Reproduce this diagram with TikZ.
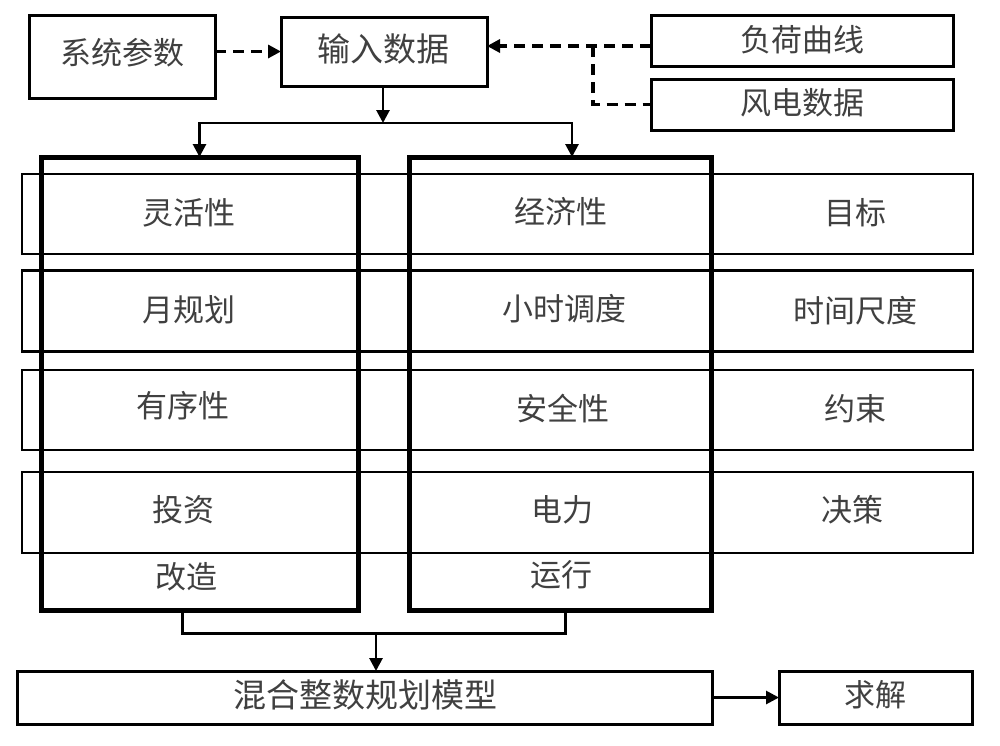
\documentclass[tikz,border=0pt]{standalone}
\usepackage{fontspec}
\setmainfont{Noto Sans CJK SC}
\usetikzlibrary{arrows.meta,calc}
\begin{document}
\begin{tikzpicture}[x=1pt,y=-1pt,
  box/.style={draw, line width=3pt, inner sep=0pt, outer sep=0pt},
  rowbox/.style={draw, line width=2.4pt, inner sep=0pt, outer sep=0pt},
  tall/.style={draw, line width=5pt, inner sep=0pt, outer sep=0pt},
  lbl/.style={inner sep=0pt, text=black!75, font=\fontsize{31pt}{31pt}\selectfont},
  arr/.style={line width=2.8pt, -{Triangle[length=13pt,width=13pt]}},
  darr/.style={line width=3.2pt, dash pattern=on 11pt off 7pt, -{Triangle[length=13pt,width=13pt]}},
  dln/.style={line width=3.2pt, dash pattern=on 11pt off 7pt},
  ln/.style={line width=3pt}]
\useasboundingbox[fill=white] (0,0) rectangle (1000,745);
% top boxes
\node[box, minimum width=186pt, minimum height=83pt] (sys) at (122,56.5) {};
\node[lbl] at (122,53) {系统参数};
\node[box, minimum width=206pt, minimum height=69pt] (inp) at (384,51.5) {};
\node[lbl, font=\fontsize{33pt}{33pt}\selectfont] at (383,49) {输入数据};
\node[box, minimum width=302pt, minimum height=51pt] (load) at (802,41) {};
\node[lbl] at (802,40) {负荷曲线};
\node[box, minimum width=302pt, minimum height=51pt] (wind) at (802,104.5) {};
\node[lbl] at (802,103) {风电数据};
% rows
\node[rowbox, minimum width=951pt, minimum height=80pt] (r1) at (497.5,214) {};
\node[rowbox, minimum width=951pt, minimum height=81pt] (r2) at (497.5,311) {};
\node[rowbox, minimum width=951pt, minimum height=80pt] (r3) at (497.5,410) {};
\node[rowbox, minimum width=951pt, minimum height=81pt] (r4) at (497.5,512.5) {};
% tall columns
\node[tall, minimum width=317pt, minimum height=453pt] (cl) at (199.5,383.5) {};
\node[tall, minimum width=302pt, minimum height=453pt] (cm) at (560,383.5) {};
% labels
\node[lbl] at (189,213) {灵活性};
\node[lbl] at (189,310) {月规划};
\node[lbl] at (183,406) {有序性};
\node[lbl] at (183,510) {投资};
\node[lbl] at (186,577) {改造};
\node[lbl] at (561,212) {经济性};
\node[lbl] at (564,309) {小时调度};
\node[lbl] at (563,409) {安全性};
\node[lbl] at (562,510) {电力};
\node[lbl] at (561,575) {运行};
\node[lbl] at (855,213) {目标};
\node[lbl] at (855,311) {时间尺度};
\node[lbl] at (855,409) {约束};
\node[lbl] at (852,510) {决策};
% bottom
\node[box, minimum width=695pt, minimum height=53pt] (model) at (364.5,697.5) {};
\node[lbl, font=\fontsize{33pt}{33pt}\selectfont] at (365,695) {混合整数规划模型};
\node[box, minimum width=193pt, minimum height=53pt] (solve) at (875.5,697.5) {};
\node[lbl] at (875.5,695) {求解};
% connectors
\draw[darr] (sys.east |- inp.west) -- (inp.west);
\coordinate (j) at (593,46);
\draw[darr] (load.west |- j) -- (inp.east |- j);
\draw[dln] (j) |- (wind.west);
\coordinate (sp) at (383,123);
\draw[arr] (inp.south -| sp) -- (sp);
\draw[arr] (sp) -| (cl.north);
\draw[arr] (sp) -| ($(cm.north)+(12,0)$);
\coordinate (bl) at (182,633);
\coordinate (bm) at (376,633);
\draw[ln] (cl.south -| bl) -- (bl) -- ($(cm.south |- bl)+(5,0)$) -- ($(cm.south)+(5,0)$);
\draw[arr] (bm) -- (model.north -| bm);
\draw[arr] (model.east) -- (solve.west);
\end{tikzpicture}
\end{document}
